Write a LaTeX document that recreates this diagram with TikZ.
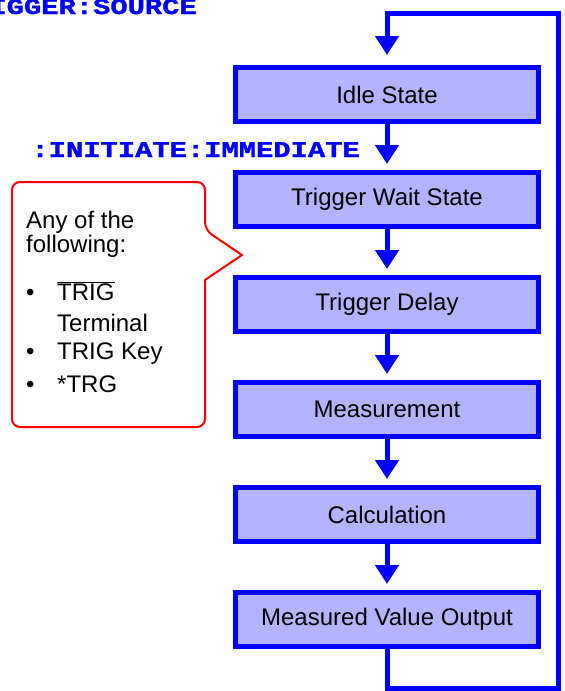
\documentclass[tikz,border=0pt]{standalone}
\usepackage{fontspec}
\setmainfont{Liberation Sans}
\newfontfamily\scpifont[FakeStretch=1.28,FakeBold=1.5]{Liberation Mono}
\usetikzlibrary{positioning,arrows.meta,calc}
\definecolor{statefill}{RGB}{179,179,255}

\begin{document}
\begin{tikzpicture}[
  x=1pt, y=-1pt,
  node distance=46pt,
  every node/.style={font=\fontsize{24}{26}\selectfont},
  state/.style={rectangle,draw=blue,line width=5pt,fill=statefill,minimum width=303pt,minimum height=54pt,inner sep=0pt},
  flow/.style={blue,line width=5pt,-{Triangle[width=23pt,length=19pt]},shorten >=6pt},
  scpi/.style={text=blue,inner sep=0pt,font=\scpifont\bfseries\fontsize{22.5}{24}\selectfont},
  callout/.style={draw=red,line width=2pt,fill=white},
  item/.style={anchor=base west,inner sep=0pt,font=\fontsize{24}{26}\selectfont}
]
\useasboundingbox (0,0) rectangle (565,691);

% States
\node[state] (idle) at (387,94.5) {Idle State};
\node[state, below=of idle] (wait) {Trigger Wait State};
\node[state, below=of wait] (delay) {Trigger Delay};
\node[state, below=of delay] (meas) {Measurement};
\node[state, below=of meas] (calc) {Calculation};
\node[state, below=of calc] (output) {Measured Value Output};

\draw[flow] (idle) -- (wait);
\draw[flow] (wait) -- (delay);
\draw[flow] (delay) -- (meas);
\draw[flow] (meas) -- (calc);
\draw[flow] (calc) -- (output);

% Loop back
\coordinate (loopbot) at (387,688);
\coordinate (looptop) at (558,13);
\draw[flow,shorten >=10pt] (output.south) -- (loopbot) -| (looptop) -| (idle.north);

% Commands
\node[scpi, anchor=base east] (src) at (197,14) {IGGER:SOURCE};
\node[scpi, anchor=base east] (init) at (360,157) {:INITIATE:IMMEDIATE};

% Trigger sources
\draw[callout] (12,300) [rounded corners=8pt] -- (12,182) -- (205,182) -- (205,230)
  [sharp corners] -- (242,255) -- (205,280) [rounded corners=8pt] -- (205,427) -- (12,427) -- cycle;
\node[item] (head) at (26,228) {Any of the};
\node[item] (head2) at (26,252) {following:};
\node[item] (dot1) at (26,300) {\textbullet};
\node[item] (src1) at (57,300) {$\overline{\mbox{TRIG}}$};
\node[item] (src1b) at (57,331) {Terminal};
\node[item] (dot2) at (26,359) {\textbullet};
\node[item] (src2) at (57,359) {TRIG Key};
\node[item] (dot3) at (26,392) {\textbullet};
\node[item] (src3) at (57,392) {*TRG};
\end{tikzpicture}
\end{document}
